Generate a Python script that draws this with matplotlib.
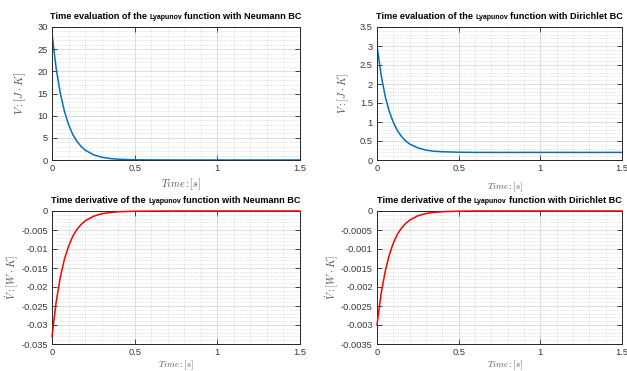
import matplotlib
matplotlib.use("Agg")
import matplotlib.pyplot as plt
from matplotlib.ticker import MultipleLocator, FuncFormatter
from matplotlib.offsetbox import TextArea, HPacker, AnchoredOffsetbox

plt.rcParams['font.family'] = ['Liberation Sans', 'DejaVu Sans']
plt.rcParams['mathtext.fontset'] = 'cm'

# values
t = [0, 0.025, 0.05, 0.075, 0.1, 0.125, 0.15, 0.175, 0.2, 0.25, 0.3, 0.35, 0.4,
     0.5, 0.6, 0.8, 1.0, 1.5]
V_neumann = [28.5, 20.7, 15.1, 11.0, 8.0, 5.8, 4.25, 3.1, 2.25, 1.2, 0.63, 0.33,
             0.18, 0.05, 0.02, 0.0, 0.0, 0.0]
V_dirichlet = [3.0, 2.24, 1.68, 1.28, 0.99, 0.77, 0.62, 0.50, 0.42, 0.32, 0.26,
               0.23, 0.218, 0.205, 0.2, 0.2, 0.2, 0.2]
dV_neumann = [-0.033, -0.024, -0.0175, -0.0127, -0.0093, -0.0067, -0.0049, -0.0036,
              -0.0026, -0.0014, -0.00073, -0.0004, -0.0002, -0.00006, -0.00002, 0, 0, 0]
dV_dirichlet = [-0.003, -0.00218, -0.00159, -0.00116, -0.00084, -0.00061, -0.00045,
                -0.00033, -0.00024, -0.000126, -0.000066, -0.000036, -0.000019,
                -0.000005, 0, 0, 0, 0]

BLUE = '#0072BD'
RED = '#FF0000'
DARK = '#262626'
LABEL = '#555555'


def title(ax, pre, post):
    big = dict(fontweight='bold', size=6.6, color='black')
    small = dict(fontweight='bold', size=5.0, color='black')
    box = HPacker(children=[TextArea(pre, textprops=big),
                            TextArea('Lyapunov', textprops=small),
                            TextArea(post, textprops=big)],
                  align='baseline', pad=0, sep=1.7)
    ab = AnchoredOffsetbox(loc='lower center', child=box, pad=0, borderpad=0,
                           frameon=False, bbox_to_anchor=(0.5, 1.045),
                           bbox_transform=ax.transAxes)
    ax.add_artist(ab)


def style(ax, ylim, ymajor, yminor):
    ax.set_xlim(0, 1.5)
    ax.set_ylim(*ylim)
    ax.xaxis.set_major_locator(MultipleLocator(0.5))
    ax.xaxis.set_minor_locator(MultipleLocator(0.1))
    ax.yaxis.set_major_locator(MultipleLocator(ymajor))
    ax.yaxis.set_minor_locator(MultipleLocator(yminor))
    fmt = FuncFormatter(lambda v, p: '%g' % (round(v, 6) + 0))
    ax.xaxis.set_major_formatter(fmt)
    ax.yaxis.set_major_formatter(fmt)
    ax.grid(True, which='major', color='#d0d0d0', lw=0.5, ls='-')
    ax.grid(True, which='minor', color='#cccccc', lw=0.5, ls=(0, (1, 1.5)))
    ax.set_axisbelow(True)
    ax.tick_params(which='major', direction='in', top=True, right=True,
                   length=3.5, width=0.6, color=DARK, labelsize=6.7,
                   labelcolor='#383838', pad=3)
    ax.tick_params(which='minor', length=0, top=True, right=True)
    for s in ax.spines.values():
        s.set_color(DARK)
        s.set_linewidth(0.7)


fig = plt.figure(figsize=(6.27, 3.71), dpi=100)
H = 371.0
W = 627.0
ax_tl = fig.add_axes([52 / W, 1 - 160 / H, 248 / W, 133 / H])
ax_tr = fig.add_axes([377 / W, 1 - 160 / H, 245 / W, 133 / H])
ax_bl = fig.add_axes([52 / W, 1 - 344 / H, 248 / W, 133 / H])
ax_br = fig.add_axes([377 / W, 1 - 344 / H, 245 / W, 133 / H])

ax_tl.plot(t, V_neumann, color=BLUE, lw=1.1)
style(ax_tl, (0, 30), 5, 1)
title(ax_tl, 'Time evaluation of the', 'function with Neumann BC')
ax_tl.set_ylabel(r'$V : [J \cdot K]$', fontsize=8, color=LABEL)
ax_tl.set_xlabel(r'$Time : [s]$', fontsize=7.2, color=LABEL)
ax_tl.yaxis.set_label_coords(-0.095, 0.5)
ax_tl.xaxis.set_label_coords(0.52, -0.128)

ax_tr.plot(t, V_dirichlet, color=BLUE, lw=1.1)
style(ax_tr, (0, 3.5), 0.5, 0.1)
title(ax_tr, 'Time evaluation of the', 'function with Dirichlet BC')
ax_tr.set_ylabel(r'$V : [J \cdot K]$', fontsize=7.6, color=LABEL)
ax_tr.set_xlabel(r'$Time : [s]$', fontsize=6.4, color=LABEL)
ax_tr.yaxis.set_label_coords(-0.106, 0.5)
ax_tr.xaxis.set_label_coords(0.52, -0.158)

ax_bl.plot(t, dV_neumann, color=RED, lw=1.1, clip_on=False, zorder=5)
style(ax_bl, (-0.035, 0), 0.005, 0.001)
title(ax_bl, 'Time derivative of the', 'function with Neumann BC')
ax_bl.set_ylabel(r'$\dot{V} : [W \cdot K]$', fontsize=7.6, color=LABEL)
ax_bl.set_xlabel(r'$Time : [s]$', fontsize=6.4, color=LABEL)
ax_bl.yaxis.set_label_coords(-0.128, 0.5)
ax_bl.xaxis.set_label_coords(0.5, -0.11)

ax_br.plot(t, dV_dirichlet, color=RED, lw=1.1, clip_on=False, zorder=5)
style(ax_br, (-0.0035, 0), 0.0005, 0.0001)
title(ax_br, 'Time derivative of the', 'function with Dirichlet BC')
ax_br.set_ylabel(r'$\dot{V} : [W \cdot K]$', fontsize=7.6, color=LABEL)
ax_br.set_xlabel(r'$Time : [s]$', fontsize=6.4, color=LABEL)
ax_br.yaxis.set_label_coords(-0.15, 0.5)
ax_br.xaxis.set_label_coords(0.52, -0.11)

fig.savefig('out.png', dpi=100)
